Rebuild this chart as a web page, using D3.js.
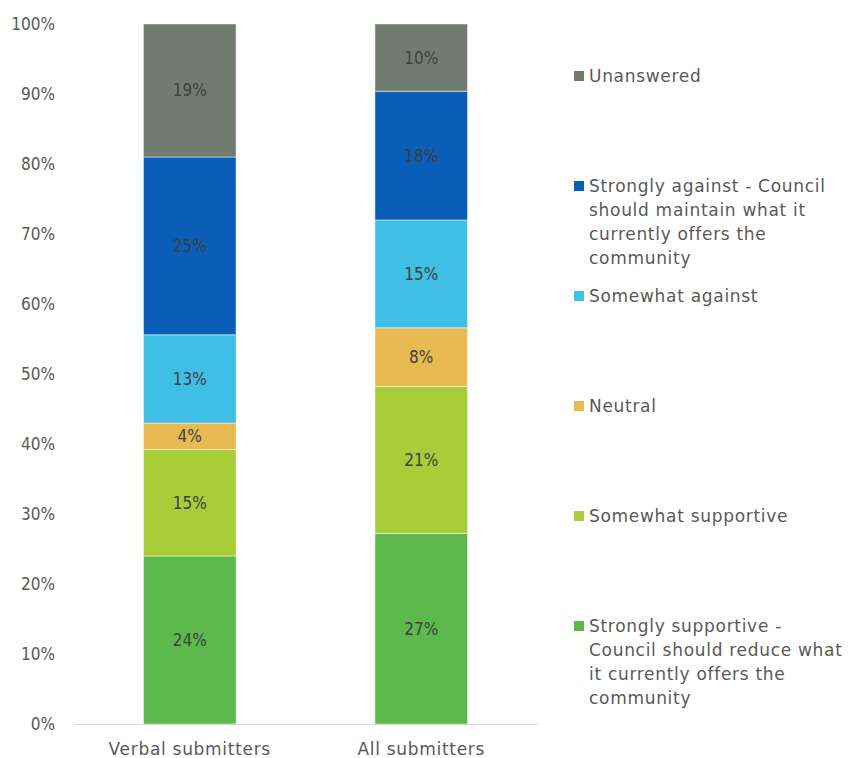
<!DOCTYPE html>
<html>
<head>
<meta charset="utf-8">
<script src="https://cdn.jsdelivr.net/npm/d3@7"></script>
<style>
  html, body { margin: 0; padding: 0; background: #fff; }
  svg { display: block; font-family: "DejaVu Sans Condensed", "DejaVu Sans", sans-serif; }
  .word { font-family: "DejaVu Sans", sans-serif; letter-spacing: 0.7px; }
</style>
</head>
<body>
<svg id="chart" width="850" height="758"></svg>
<script>
// Response groups (x axis)
const groups = ["Verbal submitters", "All submitters"];

// Response options, bottom of the stack first
const responses = [
  "Strongly supportive - Council should reduce what it currently offers the community",
  "Somewhat supportive",
  "Neutral",
  "Somewhat against",
  "Strongly against - Council should maintain what it currently offers the community",
  "Unanswered"
];

// Shares (%) per response option, one value per group
const stronglySupportive = [24.0, 27.2];
const somewhatSupportive = [15.2, 21.0];
const neutral            = [3.8, 8.4];
const somewhatAgainst    = [12.6, 15.4];
const stronglyAgainst    = [25.4, 18.4];
const unanswered         = [19.0, 9.6];

const seriesValues = [stronglySupportive, somewhatSupportive, neutral, somewhatAgainst, stronglyAgainst, unanswered];

const colors = ["#5db94c", "#a8cd39", "#e7bb51", "#3fbfe6", "#0a5eb8", "#727b70"];

// Legend text, wrapped into lines
const legendLines = [
  ["Unanswered"],
  ["Strongly against - Council", "should maintain what it", "currently offers the", "community"],
  ["Somewhat against"],
  ["Neutral"],
  ["Somewhat supportive"],
  ["Strongly supportive -", "Council should reduce what", "it currently offers the", "community"]
];
const legendColors = ["#727b70", "#0a5eb8", "#3fbfe6", "#e7bb51", "#a8cd39", "#5db94c"];

const yTicks = [0, 10, 20, 30, 40, 50, 60, 70, 80, 90, 100];

// Build rows for d3.stack
const rows = groups.map((g, i) => {
  const r = { group: g };
  responses.forEach((k, j) => { r[k] = seriesValues[j][i]; });
  return r;
});

const svg = d3.select("#chart");
const margin = { left: 74, right: 313, top: 24, bottom: 34 };
const width = 850 - margin.left - margin.right;

const x = d3.scaleBand().domain(groups).range([margin.left, margin.left + width]).paddingInner(0.6).paddingOuter(0.3);
const y = d3.scaleLinear().domain([0, 100]).range([margin.top + 700, margin.top]);

const stacked = d3.stack().keys(responses)(rows);

// Y axis labels (no axis line)
const yAxis = d3.axisLeft(y).tickValues(yTicks).tickFormat(d => d + "%").tickSize(0).tickPadding(0);
const yg = svg.append("g").attr("transform", `translate(${margin.left - 19},0)`).call(yAxis);
yg.select(".domain").remove();
yg.selectAll("text").attr("fill", "#595959").style("font-size", "17px")
  .style("font-family", "'DejaVu Sans Condensed', 'DejaVu Sans', sans-serif");

// Stacked bars
const layer = svg.append("g").selectAll("g").data(stacked).join("g")
  .attr("fill", (d, i) => colors[i]);

layer.selectAll("rect").data(d => d).join("rect")
  .attr("x", d => x(d.data.group))
  .attr("width", x.bandwidth())
  .attr("y", d => y(d[1]))
  .attr("height", d => y(d[0]) - y(d[1]))
  .attr("stroke", "#ffffff")
  .attr("stroke-opacity", 0.6)
  .attr("stroke-width", 0.8);

// Value labels
layer.selectAll("text").data(d => d).join("text")
  .attr("x", d => x(d.data.group) + x.bandwidth() / 2)
  .attr("y", d => (y(d[0]) + y(d[1])) / 2)
  .attr("dy", "0.35em")
  .attr("text-anchor", "middle")
  .attr("fill", "#404040")
  .style("font-size", "17px")
  .text(d => Math.round(d[1] - d[0]) + "%");

// X axis
const xAxis = d3.axisBottom(x).tickSize(0).tickPadding(19);
const xg = svg.append("g").attr("transform", `translate(0,${y(0)})`).call(xAxis);
xg.select(".domain").attr("stroke", "#d9d9d9").attr("stroke-width", 1.2);
xg.selectAll("text").attr("class", "word").attr("fill", "#595959").style("font-size", "17px")
  .style("font-family", null);

// Legend
const legend = svg.append("g").attr("transform", "translate(574,0)");
const lineH = 24;
legendLines.forEach((lines, i) => {
  const top = 76 + i * 110;
  const g = legend.append("g");
  g.append("rect").attr("x", 0).attr("y", top - 5).attr("width", 10).attr("height", 10)
    .attr("fill", legendColors[i]);
  const t = g.append("text").attr("class", "word").attr("x", 15).attr("y", top).attr("fill", "#595959")
    .style("font-size", "17px");
  lines.forEach((ln, k) => {
    t.append("tspan").attr("x", 15).attr("y", top + k * lineH).attr("dy", "0.38em").text(ln);
  });
});
</script>
</body>
</html>
